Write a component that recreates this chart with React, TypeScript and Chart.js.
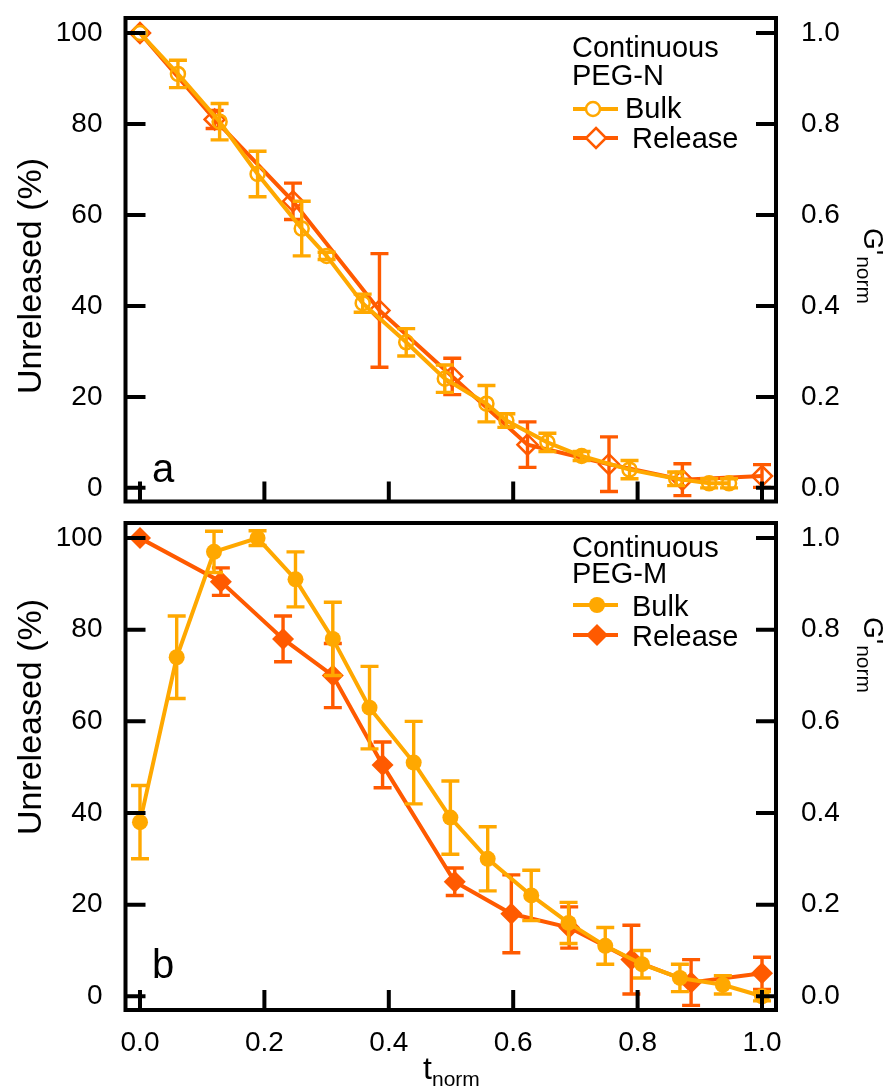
import React, { useEffect, useRef } from 'react';
import { Chart, registerables } from 'chart.js';
Chart.register(...registerables);

const BULK_COLOR = '#FFA800';
const RELEASE_COLOR = '#FF5A00';
const FONT = '"Liberation Sans", Arial, Helvetica, sans-serif';

const xTickValues = [0, 0.2, 0.4, 0.6, 0.8, 1.0];
const leftTickValues = [0, 20, 40, 60, 80, 100];
const rightTickValues = [0, 0.2, 0.4, 0.6, 0.8, 1.0];

// Panel a: Continuous PEG-N
const aBulkT = [0, 0.061, 0.128, 0.189, 0.26, 0.30, 0.358, 0.428, 0.49, 0.557, 0.589, 0.655, 0.71, 0.787, 0.862, 0.915, 0.947];
const aBulkY = [100, 91, 80.5, 69, 57, 51, 40.6, 32, 24, 18.5, 14.8, 10, 7, 4, 2, 1, 1];
const aBulkErr = [0, 3, 4, 5, 6, 0.8, 2, 3, 3, 4, 1.5, 2, 1, 2, 1.5, 1, 1];
const aRelT = [0, 0.12, 0.246, 0.385, 0.502, 0.623, 0.754, 0.872, 1.0];
const aRelY = [100, 81, 63, 39, 24.5, 9.5, 5.2, 1.8, 2.6];
const aRelErr = [0, 2, 4, 12.5, 4, 5, 6, 3.5, 2.5];

// Panel b: Continuous PEG-M
const bBulkT = [0, 0.059, 0.119, 0.189, 0.25, 0.31, 0.369, 0.44, 0.499, 0.559, 0.629, 0.689, 0.748, 0.807, 0.868, 0.937, 1.0];
const bBulkY = [38, 74, 97, 100, 91, 78, 63, 51, 39, 30, 22, 16, 11, 7, 4, 2.5, 0];
const bBulkErr = [8, 9, 4.5, 1.6, 6, 8, 9, 9, 8, 7, 5.5, 4.5, 4, 3, 3, 2, 1];
const bRelT = [0, 0.13, 0.23, 0.31, 0.39, 0.506, 0.597, 0.69, 0.79, 0.886, 1.0];
const bRelY = [100, 90.5, 78, 70, 50.5, 25, 18, 15, 8, 3, 5];
const bRelErr = [0, 3, 5, 7, 5, 3, 8.5, 4.5, 7.5, 5, 3.5];

const legendTitleA = ['Continuous', 'PEG-N'];
const legendTitleB = ['Continuous', 'PEG-M'];
const seriesNames = ['Bulk', 'Release'];

const toPoints = (xs: number[], ys: number[]) => xs.map((x, i) => ({ x, y: ys[i] }));

const errorBarPlugin = {
  id: 'errorBars',
  beforeDatasetDraw(chart: any, args: any) {
    const ds = chart.data.datasets[args.index];
    const errs: number[] = ds.errors;
    if (!errs) return;
    const xs = chart.scales.x;
    const ys = chart.scales.y;
    const ctx = chart.ctx;
    ctx.save();
    ctx.strokeStyle = ds.borderColor;
    ctx.lineWidth = 3.4;
    ds.data.forEach((p: any, i: number) => {
      const e = errs[i];
      if (!e) return;
      const px = xs.getPixelForValue(p.x);
      const top = ys.getPixelForValue(p.y + e);
      const bot = ys.getPixelForValue(p.y - e);
      ctx.beginPath();
      ctx.moveTo(px, top);
      ctx.lineTo(px, bot);
      ctx.moveTo(px - 9, top);
      ctx.lineTo(px + 9, top);
      ctx.moveTo(px - 9, bot);
      ctx.lineTo(px + 9, bot);
      ctx.stroke();
    });
    ctx.restore();
  },
};

function drawMarker(ctx: CanvasRenderingContext2D, style: string, x: number, y: number, r: number, color: string, filled: boolean) {
  ctx.beginPath();
  if (style === 'circle') {
    ctx.arc(x, y, r, 0, Math.PI * 2);
  } else {
    ctx.moveTo(x, y - r);
    ctx.lineTo(x + r, y);
    ctx.lineTo(x, y + r);
    ctx.lineTo(x - r, y);
    ctx.closePath();
  }
  if (filled) {
    ctx.fillStyle = color;
    ctx.fill();
  } else {
    ctx.fillStyle = '#ffffff';
    ctx.fill();
    ctx.strokeStyle = color;
    ctx.lineWidth = 2.5;
    ctx.stroke();
  }
}

const framePlugin = {
  id: 'frameAndText',
  afterDatasetsDraw(chart: any) {
    const o = chart.options.plugins.frameAndText;
    const ctx: CanvasRenderingContext2D = chart.ctx;
    const { left, right, top, bottom } = chart.chartArea;
    const xs = chart.scales.x;
    const ys = chart.scales.y;
    const y2 = chart.scales.y2;
    ctx.save();
    ctx.strokeStyle = '#000';
    ctx.lineWidth = 4;
    ctx.strokeRect(left, top, right - left, bottom - top);
    const TL = 20;
    ctx.beginPath();
    leftTickValues.forEach((v) => {
      const py = ys.getPixelForValue(v);
      ctx.moveTo(left, py);
      ctx.lineTo(left + TL, py);
    });
    rightTickValues.forEach((v) => {
      const py = y2.getPixelForValue(v);
      ctx.moveTo(right - TL, py);
      ctx.lineTo(right, py);
    });
    xTickValues.forEach((v) => {
      const px = xs.getPixelForValue(v);
      ctx.moveTo(px, bottom);
      ctx.lineTo(px, bottom - TL);
    });
    ctx.stroke();

    // Panel letter
    ctx.fillStyle = '#000';
    ctx.font = `40px ${FONT}`;
    ctx.textAlign = 'left';
    ctx.textBaseline = 'alphabetic';
    ctx.fillText(o.letter, 152, o.letterY);

    // Legend
    ctx.font = `29px ${FONT}`;
    ctx.fillText(o.legendTitle[0], 572, o.legendY[0]);
    ctx.fillText(o.legendTitle[1], 572, o.legendY[1]);
    const styles = ['circle', 'diamond'];
    const colors = [BULK_COLOR, RELEASE_COLOR];
    const radii = o.filled ? [8, 11] : [7, 10];
    for (let i = 0; i < 2; i++) {
      const ly = o.lineY[i];
      ctx.strokeStyle = colors[i];
      ctx.lineWidth = 4;
      ctx.beginPath();
      ctx.moveTo(573, ly);
      ctx.lineTo(618, ly);
      ctx.stroke();
      drawMarker(ctx, styles[i], o.markerX[i], ly, radii[i], colors[i], o.filled);
      ctx.fillStyle = '#000';
      ctx.fillText(seriesNames[i], o.textX[i], o.textY[i]);
    }

    // Left axis title
    ctx.save();
    ctx.translate(41, o.yTitleCenter);
    ctx.rotate(-Math.PI / 2);
    ctx.font = `34px ${FONT}`;
    ctx.textAlign = 'center';
    ctx.fillText('Unreleased (%)', 0, 0);
    ctx.restore();

    // Right axis title G'norm
    ctx.save();
    ctx.translate(864, o.gTitleStart);
    ctx.rotate(Math.PI / 2);
    ctx.textAlign = 'left';
    ctx.font = `28px ${FONT}`;
    ctx.fillText("G'", 0, 0);
    const gw = ctx.measureText("G'").width;
    ctx.font = `21px ${FONT}`;
    ctx.fillText('norm', gw + 1, 7);
    ctx.restore();

    // x title
    if (o.showXTitle) {
      ctx.textAlign = 'left';
      ctx.font = `32px ${FONT}`;
      ctx.fillText('t', 423, o.xTitleY);
      ctx.font = `21px ${FONT}`;
      ctx.fillText('norm', 432, o.xTitleY + 7);
    }
    ctx.restore();
  },
};

function zeroPad(s: any) {
  s.paddingTop = 0;
  s.paddingBottom = 0;
  s.paddingLeft = 0;
  s.paddingRight = 0;
}

function makeChart(canvas: HTMLCanvasElement, panel: any) {
  const tickFont = { family: FONT, size: 28 };
  return new Chart(canvas, {
    type: 'line',
    data: {
      datasets: [
        {
          label: 'Bulk',
          data: toPoints(panel.bulkT, panel.bulkY),
          errors: panel.bulkErr,
          borderColor: BULK_COLOR,
          backgroundColor: BULK_COLOR,
          borderWidth: 4,
          pointStyle: 'circle',
          pointRadius: panel.filled ? 8 : 7,
          pointBorderWidth: panel.filled ? 0 : 2.5,
          pointBorderColor: BULK_COLOR,
          pointBackgroundColor: panel.filled ? BULK_COLOR : 'rgba(255,255,255,0)',
          tension: 0,
          order: 0,
        } as any,
        {
          label: 'Release',
          data: toPoints(panel.relT, panel.relY),
          errors: panel.relErr,
          borderColor: RELEASE_COLOR,
          backgroundColor: RELEASE_COLOR,
          borderWidth: 4,
          pointStyle: 'rectRot',
          pointRadius: panel.filled ? 11 : 10,
          pointBorderWidth: panel.filled ? 0 : 2.5,
          pointBorderColor: RELEASE_COLOR,
          pointBackgroundColor: panel.filled ? RELEASE_COLOR : 'rgba(255,255,255,0)',
          tension: 0,
          order: 1,
        } as any,
      ],
    },
    options: {
      animation: false,
      responsive: false,
      devicePixelRatio: 1,
      layout: { padding: { left: 0, right: 0, top: panel.padTop, bottom: panel.padBottom } },
      scales: {
        x: {
          type: 'linear',
          min: -0.0233,
          max: 1.0225,
          display: panel.showX,
          grid: { display: false },
          border: { display: false },
          afterBuildTicks: (s: any) => {
            s.ticks = xTickValues.map((v) => ({ value: v }));
          },
          afterFit: (s: any) => {
            s.height = panel.showX ? 79 : 0;
            zeroPad(s);
          },
          ticks: {
            font: tickFont,
            color: '#000',
            padding: 8,
            maxRotation: 0,
            autoSkip: false,
            callback: (v: any) => Number(v).toFixed(1),
          },
        },
        y: {
          type: 'linear',
          position: 'left',
          min: -3,
          max: 103.3,
          grid: { display: false },
          border: { display: false },
          afterBuildTicks: (s: any) => {
            s.ticks = leftTickValues.map((v) => ({ value: v }));
          },
          afterFit: (s: any) => {
            s.width = 125.5;
            zeroPad(s);
          },
          ticks: { font: tickFont, color: '#000', padding: 15, callback: (v: any) => String(v) },
        },
        y2: {
          type: 'linear',
          position: 'right',
          min: -0.03,
          max: 1.033,
          grid: { display: false },
          border: { display: false },
          afterBuildTicks: (s: any) => {
            s.ticks = rightTickValues.map((v) => ({ value: v }));
          },
          afterFit: (s: any) => {
            s.width = 118;
            zeroPad(s);
          },
          ticks: { font: tickFont, color: '#000', padding: 17, callback: (v: any) => Number(v).toFixed(1) },
        },
      },
      plugins: {
        legend: { display: false },
        tooltip: { enabled: false },
        frameAndText: panel.text,
      } as any,
    },
    plugins: [errorBarPlugin, framePlugin],
  } as any);
}

export default function App() {
  const refA = useRef<HTMLCanvasElement>(null);
  const refB = useRef<HTMLCanvasElement>(null);

  useEffect(() => {
    const chartA = makeChart(refA.current!, {
      bulkT: aBulkT, bulkY: aBulkY, bulkErr: aBulkErr,
      relT: aRelT, relY: aRelY, relErr: aRelErr,
      filled: false, showX: false, padTop: 18, padBottom: 2,
      text: {
        letter: 'a', letterY: 482,
        legendTitle: legendTitleA, legendY: [57, 85],
        lineY: [109, 138], markerX: [593, 596], textX: [625, 632], textY: [118, 148],
        filled: false,
        yTitleCenter: 276, gTitleStart: 228,
        showXTitle: false, xTitleY: 0,
      },
    });
    const chartB = makeChart(refB.current!, {
      bulkT: bBulkT, bulkY: bBulkY, bulkErr: bBulkErr,
      relT: bRelT, relY: bRelY, relErr: bRelErr,
      filled: true, showX: true, padTop: 2, padBottom: 0,
      text: {
        letter: 'b', letterY: 466,
        legendTitle: legendTitleB, legendY: [45, 71],
        lineY: [93, 123], markerX: [597, 597], textX: [632, 632], textY: [104, 134],
        filled: true,
        yTitleCenter: 205, gTitleStart: 105,
        showXTitle: true, xTitleY: 567,
      },
    });
    return () => {
      chartA.destroy();
      chartB.destroy();
    };
  }, []);

  return (
    <div style={{ position: 'fixed', left: 0, top: 0, width: 894, height: 1089, background: '#fff' }}>
      <canvas ref={refA} width={894} height={514} style={{ position: 'absolute', left: 0, top: 0 }} />
      <canvas ref={refB} width={894} height={577} style={{ position: 'absolute', left: 0, top: 512 }} />
    </div>
  );
}
